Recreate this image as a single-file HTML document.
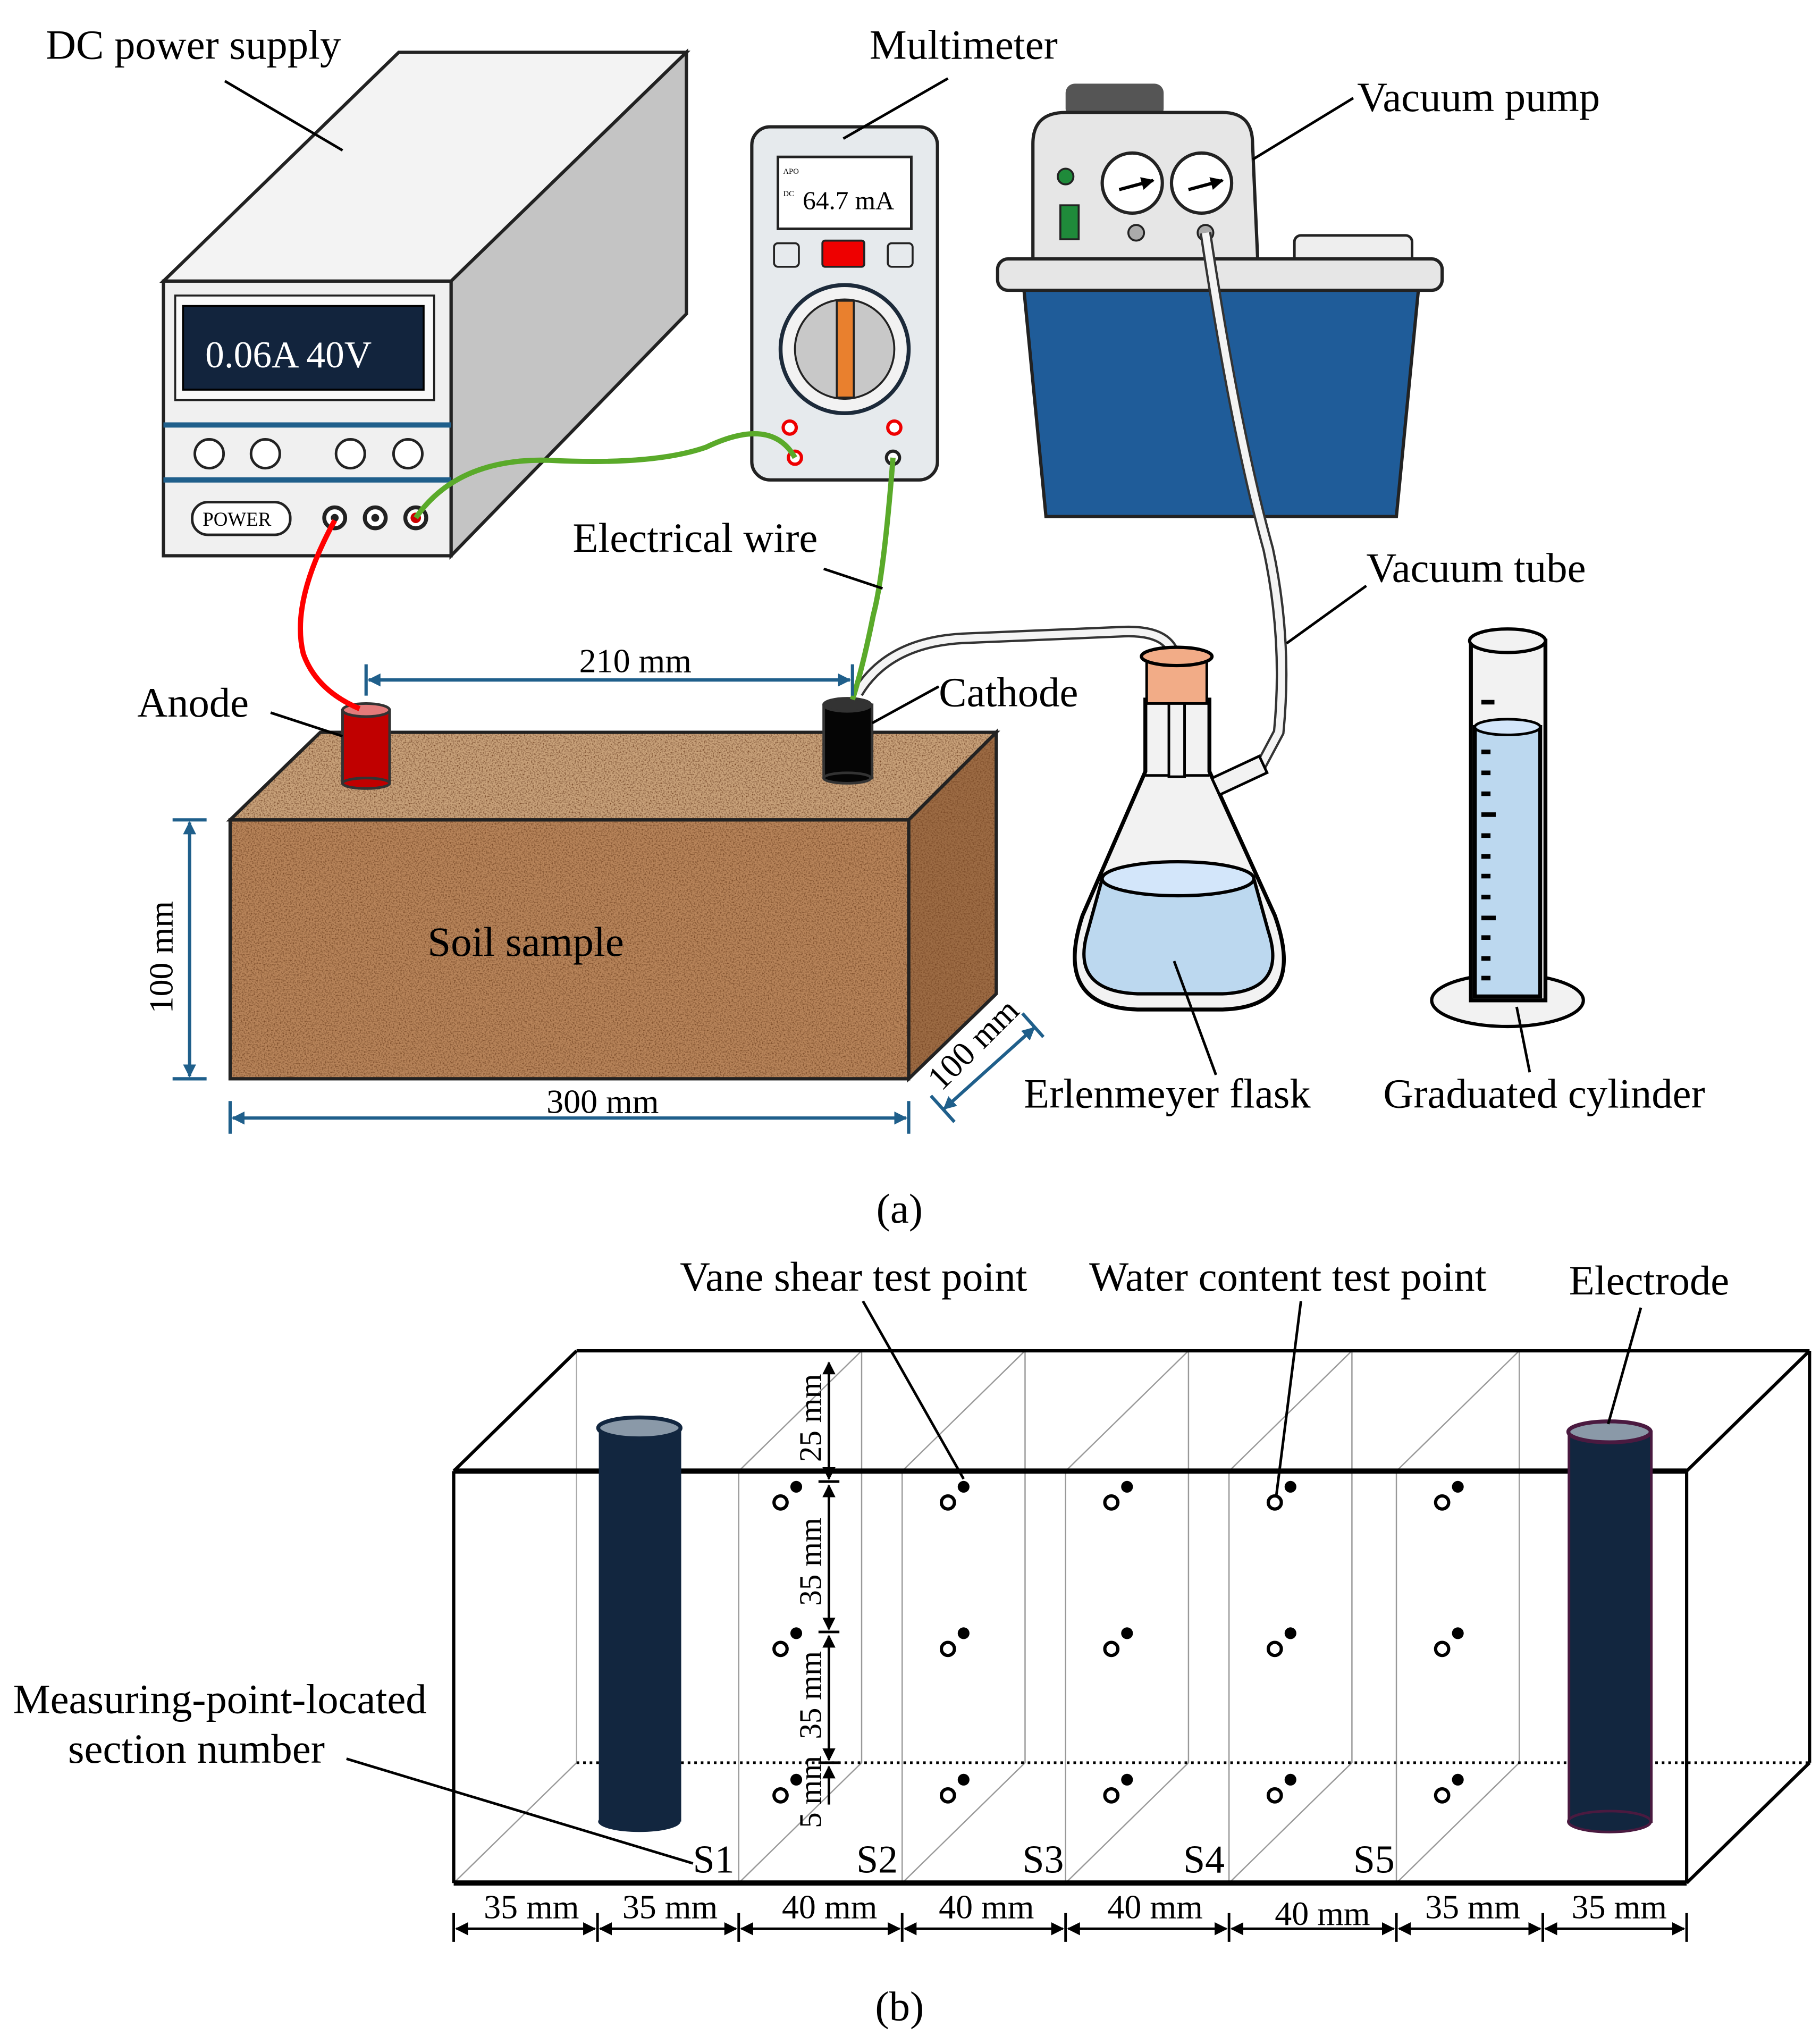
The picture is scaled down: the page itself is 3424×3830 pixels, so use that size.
<!DOCTYPE html>
<html><head><meta charset="utf-8"><style>
html,body{margin:0;padding:0;background:#fff;}
svg{display:block;}
text{font-family:"Liberation Serif","Times New Roman",serif;fill:#000;}
</style></head><body>
<svg width="3424" height="3830" viewBox="0 0 1392 1557" preserveAspectRatio="none" xmlns="http://www.w3.org/2000/svg" font-family="Liberation Serif, serif">
<defs>
<filter id="soil" x="0" y="0" width="100%" height="100%">
<feTurbulence type="fractalNoise" baseFrequency="0.9" numOctaves="2" seed="3" result="n"/>
<feColorMatrix in="n" type="matrix" values="0 0 0 0 0  0 0 0 0 0  0 0 0 0 0  0 0 0 -2.6 1.5" result="m"/>
<feFlood flood-color="#7a4a28" result="c"/>
<feComposite in="c" in2="m" operator="in" result="d"/>
<feComposite in="d" in2="SourceGraphic" operator="in" result="e"/>
<feMerge><feMergeNode in="SourceGraphic"/><feMergeNode in="e"/></feMerge>
</filter>
<marker id="ab" markerWidth="10" markerHeight="10" refX="9" refY="5" orient="auto-start-reverse" markerUnits="userSpaceOnUse"><path d="M0,0 L10,5 L0,10 z" fill="#1f5f8b"/></marker>
<marker id="ak" markerWidth="10" markerHeight="10" refX="9" refY="5" orient="auto-start-reverse" markerUnits="userSpaceOnUse"><path d="M0,0 L10,5 L0,10 z" fill="#000"/></marker>
</defs>

<!-- ========== (a) ========== -->
<polygon points="125,215 305,40 525,40 345,215" fill="#f3f3f3" stroke="#222" stroke-width="2.5"/>
<polygon points="345,215 525,40 525,240 345,425" fill="#c4c4c4" stroke="#222" stroke-width="2.5"/>
<rect x="125" y="215" width="220" height="210" fill="#f0f0f0" stroke="#222" stroke-width="2.5"/>
<rect x="134" y="226" width="198" height="80" fill="#fafafa" stroke="#222" stroke-width="1.5"/>
<rect x="140" y="234" width="184" height="64" fill="#12243d" stroke="#000" stroke-width="1.5"/>
<text x="157" y="281" font-size="29" style="fill:#fff">0.06A  40V</text>
<line x1="125" y1="325" x2="345" y2="325" stroke="#1f5f8b" stroke-width="4"/>
<line x1="125" y1="367" x2="345" y2="367" stroke="#1f5f8b" stroke-width="4"/>
<g fill="#fff" stroke="#222" stroke-width="2">
<circle cx="160" cy="347" r="11"/><circle cx="203" cy="347" r="11"/><circle cx="268" cy="347" r="11"/><circle cx="312" cy="347" r="11"/>
<rect x="147" y="384" width="75" height="25" rx="12"/>
</g>
<text x="155" y="402" font-size="15">POWER</text>
<circle cx="256" cy="396" r="8" fill="#fff" stroke="#222" stroke-width="3"/>
<circle cx="287" cy="396" r="8" fill="#fff" stroke="#222" stroke-width="3"/>
<circle cx="318" cy="396" r="8" fill="#fff" stroke="#222" stroke-width="3"/>
<circle cx="256" cy="396" r="3" fill="#222"/><circle cx="287" cy="396" r="3" fill="#222"/><circle cx="318" cy="396" r="4" fill="#c00"/>
<text x="35" y="45" font-size="32">DC power supply</text>
<line x1="172" y1="62" x2="262" y2="115" stroke="#000" stroke-width="2"/>

<!-- Multimeter -->
<rect x="575" y="97" width="142" height="270" rx="14" fill="#e6eaed" stroke="#222" stroke-width="2.5"/>
<rect x="595" y="120" width="102" height="55" fill="#fff" stroke="#222" stroke-width="2"/>
<text x="599" y="133" font-size="6">APO</text><text x="599" y="150" font-size="6">DC</text>
<text x="614" y="160" font-size="20">64.7 mA</text>
<rect x="592" y="186" width="19" height="18" rx="3" fill="#e6eaed" stroke="#222" stroke-width="1.5"/>
<rect x="629" y="184" width="32" height="20" rx="2" fill="#e00" stroke="#222" stroke-width="1.5"/>
<rect x="679" y="186" width="19" height="18" rx="3" fill="#e6eaed" stroke="#222" stroke-width="1.5"/>
<circle cx="646" cy="267" r="49" fill="#f2f2f2" stroke="#1c2a3a" stroke-width="3"/>
<circle cx="646" cy="267" r="38" fill="#c8c8c8" stroke="#222" stroke-width="1.5"/>
<rect x="640" y="230" width="13" height="74" fill="#e9802e" stroke="#222" stroke-width="1.5"/>
<circle cx="604" cy="327" r="5" fill="#fff" stroke="#e00" stroke-width="2.5"/>
<circle cx="684" cy="327" r="5" fill="#fff" stroke="#e00" stroke-width="2.5"/>
<circle cx="608" cy="350" r="5" fill="#fff" stroke="#e00" stroke-width="2.5"/>
<circle cx="683" cy="350" r="5" fill="#fff" stroke="#222" stroke-width="2.5"/>
<text x="665" y="45" font-size="32">Multimeter</text>
<line x1="725" y1="60" x2="645" y2="106" stroke="#000" stroke-width="2"/>

<!-- Vacuum pump -->
<rect x="815" y="64" width="75" height="26" rx="7" fill="#555"/>
<path d="M790,200 L790,110 Q790,86 815,86 L935,86 Q958,86 958,110 L962,200 Z" fill="#e6e6e6" stroke="#222" stroke-width="2.5"/>
<rect x="990" y="180" width="90" height="24" rx="5" fill="#eee" stroke="#222" stroke-width="2"/>
<circle cx="866" cy="140" r="23" fill="#fff" stroke="#222" stroke-width="2.5"/>
<circle cx="919" cy="140" r="23" fill="#fff" stroke="#222" stroke-width="2.5"/>
<line x1="856" y1="145" x2="882" y2="138" stroke="#000" stroke-width="2.5" marker-end="url(#ak)"/>
<line x1="909" y1="145" x2="935" y2="138" stroke="#000" stroke-width="2.5" marker-end="url(#ak)"/>
<circle cx="815" cy="135" r="6" fill="#1f8a3a" stroke="#222" stroke-width="1.5"/>
<rect x="811" y="157" width="14" height="26" fill="#1f8a3a" stroke="#222" stroke-width="1.5"/>
<circle cx="869" cy="178" r="6" fill="#aaa" stroke="#222" stroke-width="1.5"/>
<circle cx="922" cy="178" r="6" fill="#aaa" stroke="#222" stroke-width="1.5"/>
<polygon points="783,220 1085,220 1068,395 800,395" fill="#1f5c99" stroke="#222" stroke-width="2.5"/>
<rect x="763" y="198" width="340" height="24" rx="8" fill="#e6e6e6" stroke="#222" stroke-width="2.5"/>
<text x="1038" y="85" font-size="32">Vacuum pump</text>
<line x1="1035" y1="75" x2="958" y2="122" stroke="#000" stroke-width="2"/>

<!-- Vacuum tube -->
<path d="M922,178 Q945,330 970,420 Q985,490 978,560 L962,590" fill="none" stroke="#333" stroke-width="9"/>
<path d="M922,178 Q945,330 970,420 Q985,490 978,560 L962,590" fill="none" stroke="#f4f4f4" stroke-width="5.5"/>
<text x="1045" y="445" font-size="32">Vacuum tube</text>
<line x1="1045" y1="448" x2="984" y2="492" stroke="#000" stroke-width="2"/>

<path d="M656,530 Q680,490 740,488 L860,483 Q892,482 898,500" fill="none" stroke="#333" stroke-width="9"/>
<path d="M656,530 Q680,490 740,488 L860,483 Q892,482 898,500" fill="none" stroke="#f4f4f4" stroke-width="5.5"/>

<!-- Flask -->
<path d="M876,535 L876,590 L828,700 Q805,770 870,772 L935,772 Q1000,770 975,700 L925,590 L925,535 Z" fill="#f2f2f2" stroke="#000" stroke-width="3"/>
<path d="M843,672 L832,712 Q818,758 870,760 L935,760 Q985,758 970,712 L959,672 Z" fill="#bcd8ef" stroke="#000" stroke-width="2.5"/>
<ellipse cx="901" cy="672" rx="58" ry="13" fill="#d3e6fa" stroke="#000" stroke-width="2.5"/>
<rect x="877" y="502" width="46" height="36" fill="#f2ac87" stroke="#000" stroke-width="2"/>
<ellipse cx="900" cy="502" rx="27" ry="7" fill="#f2ac87" stroke="#000" stroke-width="2.5"/>
<line x1="876" y1="593" x2="925" y2="593" stroke="#000" stroke-width="2"/>
<rect x="894" y="538" width="12" height="56" fill="#f2f2f2" stroke="#000" stroke-width="2"/>
<rect x="928" y="586" width="40" height="14" transform="rotate(-25 948 593)" fill="#f2f2f2" stroke="#000" stroke-width="2"/>
<text x="783" y="847" font-size="32">Erlenmeyer flask</text>
<line x1="930" y1="822" x2="898" y2="735" stroke="#000" stroke-width="2"/>

<!-- Graduated cylinder -->
<ellipse cx="1153" cy="765" rx="58" ry="20" fill="#f2f2f2" stroke="#000" stroke-width="2.5"/>
<rect x="1125" y="490" width="57" height="275" fill="#f2f2f2" stroke="#000" stroke-width="3"/>
<rect x="1128" y="556" width="50" height="206" fill="#bcd8ef" stroke="#000" stroke-width="3"/>
<ellipse cx="1153" cy="556" rx="25" ry="6" fill="#d3e6fa" stroke="#000" stroke-width="2"/>
<ellipse cx="1153" cy="490" rx="29" ry="9" fill="#f2f2f2" stroke="#000" stroke-width="2.5"/>
<g stroke="#000" stroke-width="3.5">
<line x1="1133" y1="537" x2="1143" y2="537"/>
<line x1="1133" y1="575" x2="1140" y2="575"/><line x1="1133" y1="591" x2="1140" y2="591"/><line x1="1133" y1="607" x2="1140" y2="607"/><line x1="1133" y1="623" x2="1144" y2="623"/>
<line x1="1133" y1="639" x2="1140" y2="639"/><line x1="1133" y1="655" x2="1140" y2="655"/><line x1="1133" y1="670" x2="1140" y2="670"/><line x1="1133" y1="686" x2="1140" y2="686"/>
<line x1="1133" y1="702" x2="1144" y2="702"/><line x1="1133" y1="717" x2="1140" y2="717"/><line x1="1133" y1="733" x2="1140" y2="733"/><line x1="1133" y1="748" x2="1140" y2="748"/>
</g>
<text x="1058" y="847" font-size="32">Graduated cylinder</text>
<line x1="1170" y1="820" x2="1160" y2="770" stroke="#000" stroke-width="2"/>

<!-- Soil block -->
<polygon points="176,627 245,560 762,560 695,627" fill="#c9a27a" stroke="#222" stroke-width="2.5" filter="url(#soil)"/>
<polygon points="695,627 762,560 762,760 695,825" fill="#9d6c44" stroke="#222" stroke-width="2.5" filter="url(#soil)"/>
<rect x="176" y="627" width="519" height="198" fill="#b8845a" stroke="#222" stroke-width="2.5" filter="url(#soil)"/>
<polygon points="176,627 245,560 762,560 695,627" fill="none" stroke="#222" stroke-width="2.5"/>
<polygon points="695,627 762,560 762,760 695,825" fill="none" stroke="#222" stroke-width="2.5"/>
<rect x="176" y="627" width="519" height="198" fill="none" stroke="#222" stroke-width="2.5"/>
<text x="327" y="731" font-size="32">Soil sample</text>

<rect x="262" y="543" width="36" height="56" fill="#c00000" stroke="#333" stroke-width="2"/>
<ellipse cx="280" cy="599" rx="18" ry="4" fill="#c00000" stroke="#333" stroke-width="2"/>
<ellipse cx="280" cy="543" rx="18" ry="5" fill="#e47a7a" stroke="#333" stroke-width="2"/>
<rect x="630" y="539" width="37" height="56" fill="#050505" stroke="#333" stroke-width="2"/>
<ellipse cx="648" cy="595" rx="18" ry="4" fill="#050505" stroke="#333" stroke-width="2"/>
<ellipse cx="648" cy="539" rx="18" ry="5" fill="#333" stroke="#333" stroke-width="2"/>

<path d="M256,398 Q222,460 232,500 Q242,528 275,542" fill="none" stroke="#f00" stroke-width="4"/>
<path d="M318,396 Q350,350 420,352 Q500,356 540,342 Q590,318 608,350" fill="none" stroke="#5aaa2a" stroke-width="4"/>
<path d="M683,350 Q676,440 668,470 Q660,510 652,535" fill="none" stroke="#5aaa2a" stroke-width="4"/>

<g stroke="#1f5f8b" stroke-width="2.5" fill="none">
<line x1="282" y1="520" x2="650" y2="520" marker-start="url(#ab)" marker-end="url(#ab)"/>
<line x1="280" y1="508" x2="280" y2="532"/><line x1="652" y1="508" x2="652" y2="532"/>
<line x1="145" y1="629" x2="145" y2="823" marker-start="url(#ab)" marker-end="url(#ab)"/>
<line x1="132" y1="627" x2="158" y2="627"/><line x1="132" y1="825" x2="158" y2="825"/>
<line x1="178" y1="855" x2="693" y2="855" marker-start="url(#ab)" marker-end="url(#ab)"/>
<line x1="176" y1="842" x2="176" y2="867"/><line x1="695" y1="842" x2="695" y2="867"/>
<line x1="722" y1="848" x2="791" y2="786" marker-start="url(#ab)" marker-end="url(#ab)"/>
<line x1="712" y1="838" x2="730" y2="858"/><line x1="782" y1="775" x2="798" y2="793"/>
</g>
<text x="443" y="514" font-size="26">210 mm</text>
<text x="418" y="851" font-size="26">300 mm</text>
<text transform="translate(132,775) rotate(-90)" font-size="26">100 mm</text>
<text transform="translate(720,835) rotate(-45)" font-size="26">100 mm</text>

<text x="105" y="548" font-size="32">Anode</text>
<line x1="207" y1="545" x2="262" y2="563" stroke="#000" stroke-width="2"/>
<text x="718" y="540" font-size="32">Cathode</text>
<line x1="718" y1="525" x2="667" y2="553" stroke="#000" stroke-width="2"/>
<text x="438" y="422" font-size="32">Electrical wire</text>
<line x1="630" y1="435" x2="675" y2="450" stroke="#000" stroke-width="2"/>
<text x="688" y="935" font-size="32" text-anchor="middle">(a)</text>

<!-- ========== (b) ========== -->
<g stroke="#999" stroke-width="1" fill="none">
<line x1="441" y1="1033" x2="441" y2="1348" stroke="#aaa"/>
<line x1="347" y1="1440" x2="441" y2="1348"/>
<line x1="565" y1="1125" x2="565" y2="1440"/><line x1="659" y1="1033" x2="659" y2="1348"/>
<line x1="690" y1="1125" x2="690" y2="1440"/><line x1="784" y1="1033" x2="784" y2="1348"/>
<line x1="815" y1="1125" x2="815" y2="1440"/><line x1="909" y1="1033" x2="909" y2="1348"/>
<line x1="940" y1="1125" x2="940" y2="1440"/><line x1="1034" y1="1033" x2="1034" y2="1348"/>
<line x1="1068" y1="1125" x2="1068" y2="1440"/><line x1="1162" y1="1033" x2="1162" y2="1348"/>
<line x1="565" y1="1125" x2="659" y2="1033"/><line x1="565" y1="1440" x2="659" y2="1348"/>
<line x1="690" y1="1125" x2="784" y2="1033"/><line x1="690" y1="1440" x2="784" y2="1348"/>
<line x1="815" y1="1125" x2="909" y2="1033"/><line x1="815" y1="1440" x2="909" y2="1348"/>
<line x1="940" y1="1125" x2="1034" y2="1033"/><line x1="940" y1="1440" x2="1034" y2="1348"/>
<line x1="1068" y1="1125" x2="1162" y2="1033"/><line x1="1068" y1="1440" x2="1162" y2="1348"/>
</g>
<line x1="441" y1="1348" x2="1384" y2="1348" stroke="#000" stroke-width="2" stroke-dasharray="2,3"/>
<g stroke="#000" stroke-width="2.5" fill="none">
<line x1="347" y1="1125" x2="441" y2="1033"/>
<line x1="441" y1="1033" x2="1384" y2="1033"/>
<line x1="1384" y1="1033" x2="1384" y2="1348"/>
<line x1="1290" y1="1125" x2="1384" y2="1033"/>
<line x1="1290" y1="1440" x2="1384" y2="1348"/>
<line x1="347" y1="1125" x2="347" y2="1440"/>
<line x1="1290" y1="1125" x2="1290" y2="1440"/>
</g>
<line x1="347" y1="1125" x2="1290" y2="1125" stroke="#000" stroke-width="4"/>
<line x1="347" y1="1440" x2="1290" y2="1440" stroke="#000" stroke-width="4"/>

<rect x="458" y="1092" width="63" height="301" fill="#12263f"/>
<ellipse cx="489" cy="1393" rx="31.5" ry="8" fill="#12263f"/>
<ellipse cx="489" cy="1092" rx="31.5" ry="8" fill="#8a99a8" stroke="#12263f" stroke-width="3"/>
<rect x="1200" y="1095" width="63" height="298" fill="#12263f" stroke="#4a1a40" stroke-width="2"/>
<ellipse cx="1231" cy="1393" rx="31.5" ry="8" fill="#12263f" stroke="#4a1a40" stroke-width="2"/>
<ellipse cx="1231" cy="1095" rx="31.5" ry="8" fill="#8a99a8" stroke="#4a1a40" stroke-width="3"/>

<g>
<g id="pts">
<circle cx="597" cy="1149" r="5" fill="#fff" stroke="#000" stroke-width="2.5"/><circle cx="609" cy="1137" r="4.5" fill="#000"/>
<circle cx="597" cy="1261" r="5" fill="#fff" stroke="#000" stroke-width="2.5"/><circle cx="609" cy="1249" r="4.5" fill="#000"/>
<circle cx="597" cy="1373" r="5" fill="#fff" stroke="#000" stroke-width="2.5"/><circle cx="609" cy="1361" r="4.5" fill="#000"/>
</g>
<use href="#pts" x="128"/><use href="#pts" x="253"/><use href="#pts" x="378"/><use href="#pts" x="506"/>
</g>

<g stroke="#000" stroke-width="2" fill="none">
<line x1="634" y1="1042" x2="634" y2="1131" marker-start="url(#ak)" marker-end="url(#ak)"/>
<line x1="634" y1="1136" x2="634" y2="1246" marker-start="url(#ak)" marker-end="url(#ak)"/>
<line x1="634" y1="1251" x2="634" y2="1346" marker-start="url(#ak)" marker-end="url(#ak)"/>
<line x1="634" y1="1351" x2="634" y2="1380" marker-start="url(#ak)"/>
<line x1="626" y1="1133" x2="642" y2="1133"/><line x1="626" y1="1248" x2="642" y2="1248"/><line x1="626" y1="1348" x2="642" y2="1348"/>
</g>
<g font-size="24">
<text transform="translate(628,1118) rotate(-90)">25 mm</text>
<text transform="translate(628,1228) rotate(-90)">35 mm</text>
<text transform="translate(628,1330) rotate(-90)">35 mm</text>
<text transform="translate(628,1398) rotate(-90)">5 mm</text>
</g>

<g font-size="30">
<text x="530" y="1432">S1</text><text x="655" y="1432">S2</text><text x="782" y="1432">S3</text><text x="905" y="1432">S4</text><text x="1035" y="1432">S5</text>
</g>

<g stroke="#000" stroke-width="2" fill="none">
<line x1="349" y1="1475" x2="455" y2="1475" marker-start="url(#ak)" marker-end="url(#ak)"/>
<line x1="459" y1="1475" x2="563" y2="1475" marker-start="url(#ak)" marker-end="url(#ak)"/>
<line x1="567" y1="1475" x2="688" y2="1475" marker-start="url(#ak)" marker-end="url(#ak)"/>
<line x1="692" y1="1475" x2="813" y2="1475" marker-start="url(#ak)" marker-end="url(#ak)"/>
<line x1="817" y1="1475" x2="938" y2="1475" marker-start="url(#ak)" marker-end="url(#ak)"/>
<line x1="942" y1="1475" x2="1066" y2="1475" marker-start="url(#ak)" marker-end="url(#ak)"/>
<line x1="1070" y1="1475" x2="1178" y2="1475" marker-start="url(#ak)" marker-end="url(#ak)"/>
<line x1="1182" y1="1475" x2="1288" y2="1475" marker-start="url(#ak)" marker-end="url(#ak)"/>
<line x1="347" y1="1463" x2="347" y2="1485"/><line x1="457" y1="1463" x2="457" y2="1485"/><line x1="565" y1="1463" x2="565" y2="1485"/><line x1="690" y1="1463" x2="690" y2="1485"/><line x1="815" y1="1463" x2="815" y2="1485"/><line x1="940" y1="1463" x2="940" y2="1485"/><line x1="1068" y1="1463" x2="1068" y2="1485"/><line x1="1180" y1="1463" x2="1180" y2="1485"/><line x1="1290" y1="1463" x2="1290" y2="1485"/>
</g>
<g font-size="26">
<text x="370" y="1467">35 mm</text><text x="476" y="1467">35 mm</text><text x="598" y="1467">40 mm</text><text x="718" y="1467">40 mm</text><text x="847" y="1467">40 mm</text><text x="975" y="1472">40 mm</text><text x="1090" y="1467">35 mm</text><text x="1202" y="1467">35 mm</text>
</g>

<text x="520" y="987" font-size="32">Vane shear test point</text>
<line x1="660" y1="995" x2="737" y2="1131" stroke="#000" stroke-width="2"/>
<text x="833" y="987" font-size="32">Water content test point</text>
<line x1="995" y1="995" x2="976" y2="1145" stroke="#000" stroke-width="2"/>
<text x="1200" y="990" font-size="32">Electrode</text>
<line x1="1255" y1="1000" x2="1230" y2="1089" stroke="#000" stroke-width="2"/>
<text x="10" y="1310" font-size="32">Measuring-point-located</text>
<text x="52" y="1348" font-size="32">section number</text>
<line x1="265" y1="1345" x2="530" y2="1425" stroke="#000" stroke-width="2"/>
<text x="688" y="1545" font-size="32" text-anchor="middle">(b)</text>
</svg>
</body></html>
